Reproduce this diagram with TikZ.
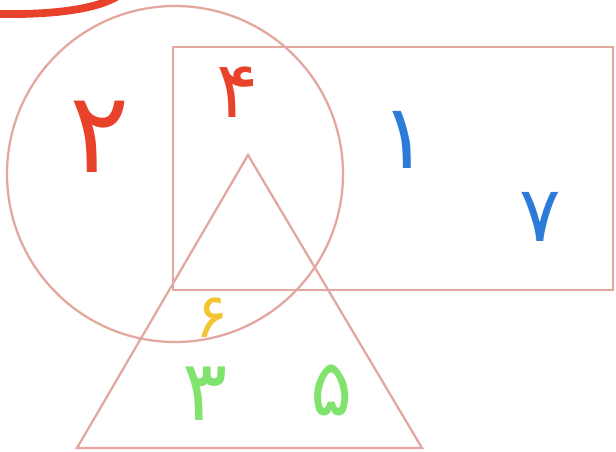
\documentclass[tikz,border=0pt]{standalone}
\usepackage{fontspec}
\usepackage{xcolor}
\usetikzlibrary{positioning}
\newfontfamily\digitfont[Script=Arabic]{DejaVu Sans}
\definecolor{edge}{HTML}{E3A79F}
\definecolor{inkred}{HTML}{E8432A}
\definecolor{inkblue}{HTML}{2C7BD9}
\definecolor{inkyel}{HTML}{F2C531}
\definecolor{inkgrn}{HTML}{7FE36E}

\begin{document}
\begin{tikzpicture}[x=0.025cm,y=-0.025cm,
  shp/.style={draw=edge,line width=1.6pt},
  dig/.style={inner sep=0pt,font=\digitfont\fontsize{#1}{#1}\selectfont}]
  \useasboundingbox[fill=white] (0,0) rectangle (616,452);
  % sets
  \draw[shp] (175,174) circle[radius=168];
  \draw[shp] (173,47) rectangle (613,290);
  \draw[shp] (248,155) -- (77,448) -- (422,448) -- cycle;
  % stroke at the top
  \draw[inkred,line width=5.5pt,line cap=round] (-5,14) .. controls (50,15) and (95,10) .. (118,-4);
  % regions
  \node[dig=80,text=inkred] (two) at (100,137) {۲};
  \node[dig=56,text=inkred] (four) at (238,92) {۴};
  \node[dig=64,text=inkblue] (one) at (405,140) {۱};
  \node[dig=55,text=inkblue] (seven) at (540,217) {۷};
  \node[dig=44,text=inkyel] (six) at (212,318) {۶};
  \node[dig=60,text=inkgrn] (three) at (205,394) {۳};
  \node[dig=56,text=inkgrn] (five) at (332,390) {۵};
\end{tikzpicture}
\end{document}
